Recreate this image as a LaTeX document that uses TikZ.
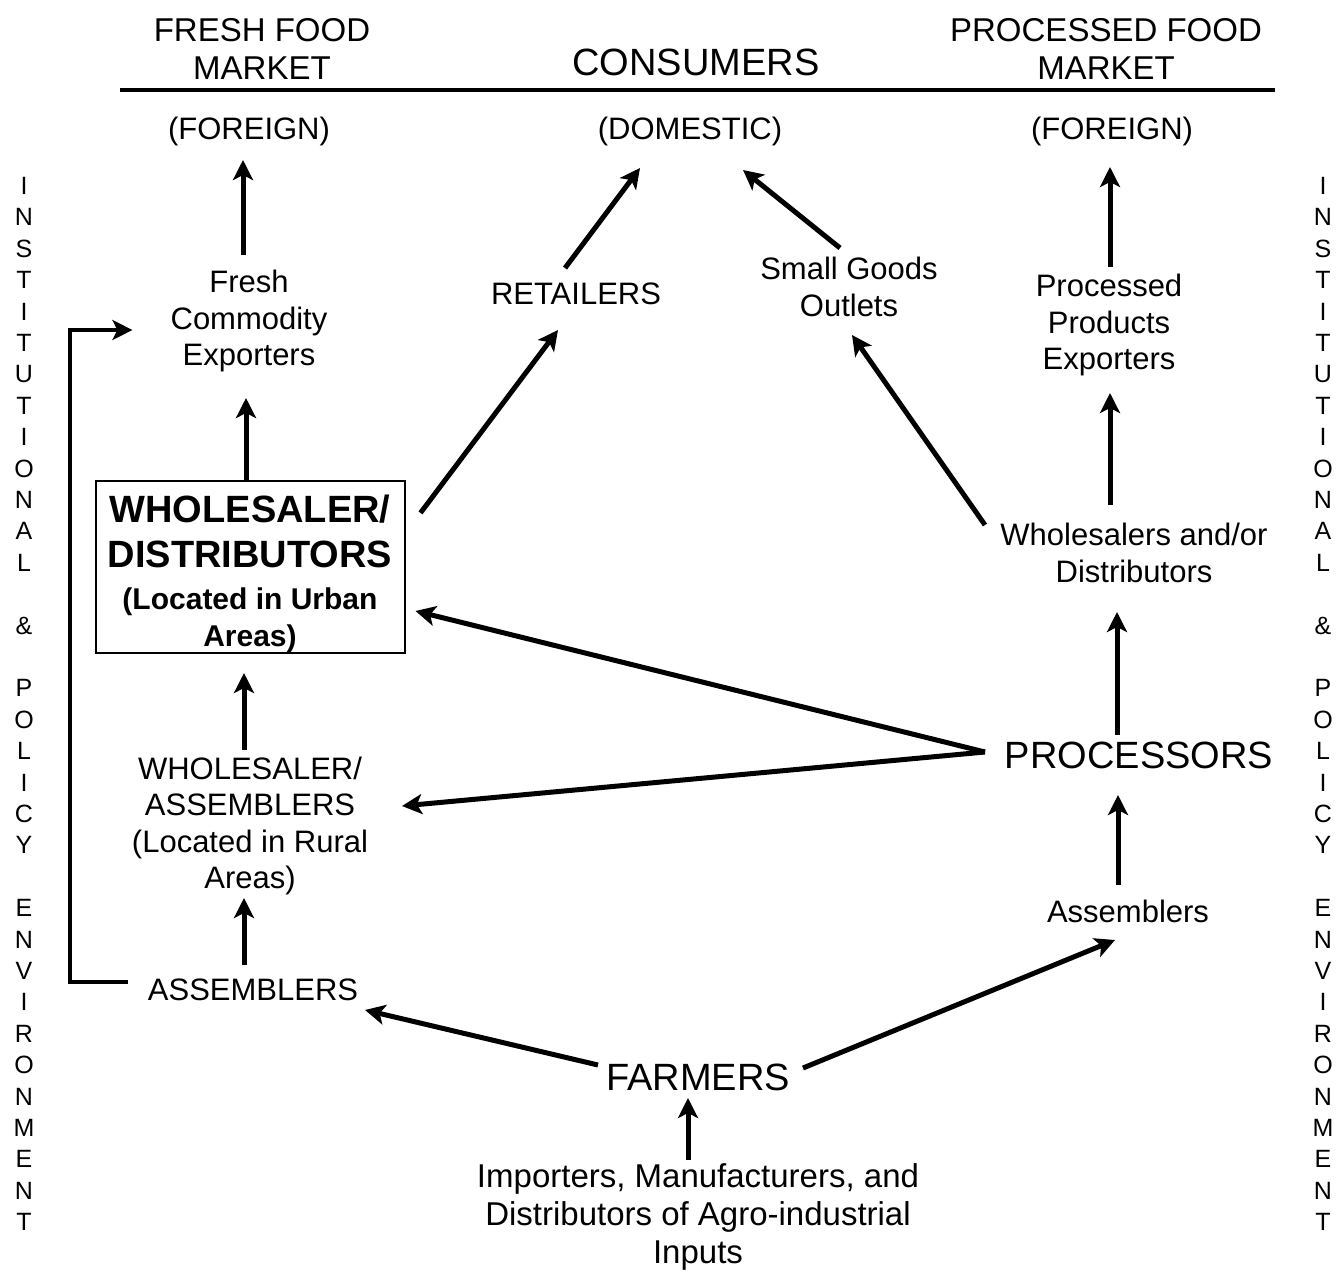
\documentclass[tikz,border=0pt]{standalone}
\usepackage{fontspec}
\setmainfont{Liberation Sans}
\usetikzlibrary{arrows.meta}
\newcommand{\boxbig}{\fontsize{38}{45}\selectfont}
\begin{document}
\begin{tikzpicture}[x=1pt,y=-1pt,
  lbl/.style={inner sep=0pt,align=center,font=\fontsize{31}{36.5}\selectfont},
  hdr/.style={inner sep=0pt,align=center,font=\fontsize{33}{38}\selectfont},
  bigl/.style={inner sep=0pt,align=center,font=\fontsize{38}{44}\selectfont},
  side/.style={inner sep=0pt,align=center,font=\fontsize{25}{31.4}\selectfont},
  flow/.style={line width=5pt,-{Stealth[length=20pt,width=20pt,inset=5pt]}},
  back/.style={line width=4pt,-{Stealth[length=20pt,width=20pt,inset=5pt]}},
  outlined/.style={draw,line width=2pt,minimum width=309pt,minimum height=172pt,inner sep=0pt,align=center}]
\useasboundingbox (0,0) rectangle (1344,1272);

% markets and consumers
\node[hdr]  (fhead) at (262,49)  {FRESH FOOD\\MARKET};
\node[bigl] (cons)  at (696,62)  {CONSUMERS};
\node[hdr]  (phead) at (1106,49) {PROCESSED FOOD\\MARKET};
\draw[line width=4pt] (120,90) -- (1275,90);

\node[lbl] (forL) at (249,131)  {(FOREIGN)};
\node[lbl] (dom)  at (690,131)  {(DOMESTIC)};
\node[lbl] (forR) at (1112,131) {(FOREIGN)};

% intermediaries
\node[lbl] (fce)  at (249,321)  {Fresh\\Commodity\\Exporters};
\node[lbl] (ret)  at (576,294)  {RETAILERS};
\node[lbl] (sgo)  at (849,287)  {Small Goods\\Outlets};
\node[lbl] (ppe)  at (1109,325) {Processed\\Products\\Exporters};

\node[outlined,font=\fontsize{30}{37}\selectfont\bfseries] (box) at (250,567)
  {\boxbig\rule{0pt}{42pt}WHOLESALER/\\[8pt]\boxbig DISTRIBUTORS\\[5pt](Located in Urban\\Areas)};

\node[lbl] (wd)   at (1134,553) {Wholesalers and/or\\Distributors};
\node[lbl] (wa)   at (250,826)  {WHOLESALER/\\ASSEMBLERS\\(Located in Rural\\Areas)};
\node[bigl] (proc) at (1139,755) {PROCESSORS};
\node[lbl] (asmR) at (1128,911) {Assemblers};
\node[lbl] (asmL) at (253,990)  {ASSEMBLERS};
\node[bigl] (farm) at (698,1077) {FARMERS};
\node[inner sep=0pt,align=center,font=\fontsize{33}{38}\selectfont] (imp) at (698,1217)
  {Importers, Manufacturers, and\\Distributors of Agro-industrial\\Inputs};

% surrounding environment
\node[side] (sideL) at (24,704) {I\\N\\S\\T\\I\\T\\U\\T\\I\\O\\N\\A\\L\\\mbox{}\\\&\\\mbox{}\\P\\O\\L\\I\\C\\Y\\\mbox{}\\E\\N\\V\\I\\R\\O\\N\\M\\E\\N\\T};
\node[side] (sideR) at (1323,704) {I\\N\\S\\T\\I\\T\\U\\T\\I\\O\\N\\A\\L\\\mbox{}\\\&\\\mbox{}\\P\\O\\L\\I\\C\\Y\\\mbox{}\\E\\N\\V\\I\\R\\O\\N\\M\\E\\N\\T};

% fresh food channel
\draw[flow] ([shift={(-6,-66)}]fce.center) -- ([shift={(-6,29)}]forL.center);
\draw[flow] ([shift={(-4,0)}]box.north) -- ([shift={(-3,77)}]fce.center);
\draw[flow] ([shift={(-6,-76)}]wa.center) -- ([shift={(-6,106)}]box.center);
\draw[flow] ([shift={(-9,-25)}]asmL.center) -- ([shift={(-6,72)}]wa.center);
\draw[back] ([shift={(-20,-8)}]asmL.west) -- ++(-58,0) |- ([shift={(-38,9)}]fce.west);

% domestic channel
\draw[flow] ([shift={(15,33)}]box.north east) -- ([shift={(-18,36)}]ret.center);
\draw[flow] ([shift={(-11,-26)}]ret.center) -- ([shift={(-50,37)}]dom.center);
\draw[flow] ([shift={(-9,-39)}]sgo.center) -- ([shift={(53,39)}]dom.center);
\draw[flow] ([shift={(-149,-28)}]wd.center) -- ([shift={(3,48)}]sgo.center);

% processed food channel
\draw[flow] ([shift={(-24,-48)}]wd.center) -- ([shift={(1,68)}]ppe.center);
\draw[flow] ([shift={(1,-58)}]ppe.center) -- ([shift={(-2,36)}]forR.center);
\draw[flow] ([shift={(-22,-20)}]proc.center) -- ([shift={(-17,59)}]wd.center);
\draw[flow] ([shift={(-154,-3)}]proc.center) -- ([shift={(10,44)}]box.east);
\draw[flow] ([shift={(-154,-3)}]proc.center) -- ([shift={(152,-20)}]wa.center);
\draw[flow] ([shift={(-10,-26)}]asmR.center) -- ([shift={(-21,40)}]proc.center);

% farm level
\draw[flow] ([shift={(-100,-12)}]farm.center) -- ([shift={(112,20)}]asmL.center);
\draw[flow] ([shift={(105,-9)}]farm.center) -- ([shift={(-13,29)}]asmR.center);
\draw[flow] ([shift={(-10,-57)}]imp.center) -- ([shift={(-10,21)}]farm.center);
\end{tikzpicture}
\end{document}
